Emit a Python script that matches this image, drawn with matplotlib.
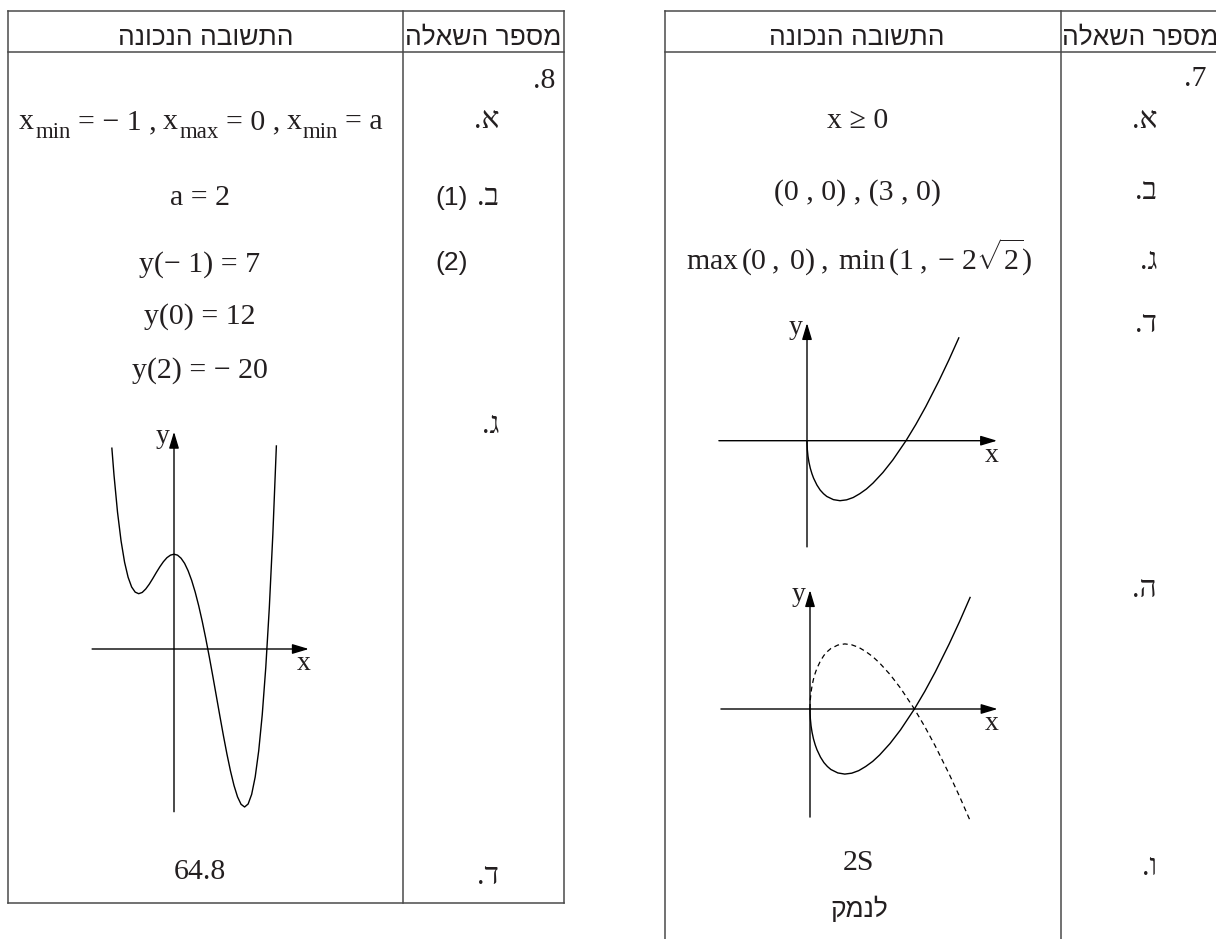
"""
Answer key tables for questions 7 and 8, with the function sketches.
"""
import matplotlib
matplotlib.use("Agg")
import matplotlib.pyplot as plt

W, H, DPI = 1216, 939, 100
SERIF = ["Liberation Serif", "DejaVu Sans"]
SANS = ["Liberation Sans", "DejaVu Sans"]
INK = "#231f20"
RULE = "#4a4a4a"
SIZE = 21.5
SUB_SIZE = 16.5
HEAD_SIZE = 19

plt.rcParams["mathtext.fontset"] = "custom"
plt.rcParams["mathtext.rm"] = "Liberation Serif"
plt.rcParams["mathtext.it"] = "Liberation Serif:italic"
plt.rcParams["mathtext.bf"] = "Liberation Serif:bold"

# ---- content -------------------------------------------------------------
HEADER_Q = "מספר השאלה"
HEADER_A = "התשובה הנכונה"

Q8_NUMBER = "8."
Q8_PARTS = ["א.", "ב.", "ג.", "ד."]
Q8_SUBPARTS = ["(1)", "(2)"]
Q8_ANSWER_A = [("x", 0), ("min", 1), ("= − 1 ,", 0), ("x", 0), ("max", 1),
               ("= 0 ,", 0), ("x", 0), ("min", 1), ("= a", 0)]
Q8_ANSWER_B1 = "a = 2"
Q8_ANSWER_B2 = ["y(− 1) = 7", "y(0) = 12", "y(2) = − 20"]
Q8_ANSWER_D = "64.8"

# y = f(x) sketch for question 8
Q8_CURVE_X = [-1.76, -1.7, -1.6, -1.5, -1.4, -1.3, -1.2, -1.1, -1.0, -0.9,
              -0.8, -0.7, -0.6, -0.5, -0.4, -0.3, -0.2, -0.1, 0.0, 0.1,
              0.2, 0.3, 0.4, 0.5, 0.6, 0.7, 0.8, 0.9, 1.0, 1.1,
              1.2, 1.3, 1.4, 1.5, 1.6, 1.7, 1.8, 1.9, 2.0, 2.1,
              2.2, 2.3, 2.4, 2.5, 2.6, 2.7, 2.8, 2.9]
Q8_CURVE_Y = [25.42, 22.03, 17.32, 13.69, 10.98, 9.08, 7.85, 7.20, 7.00, 7.16,
              7.60, 8.21, 8.93, 9.69, 10.41, 11.05, 11.56, 11.88, 12.00, 11.88,
              11.49, 10.84, 9.90, 8.69, 7.21, 5.47, 3.50, 1.33, -1.00, -3.45,
              -5.97, -8.50, -10.97, -13.31, -15.44, -17.28, -18.72, -19.66, -20.00, -19.62,
              -18.40, -16.20, -12.88, -8.31, -2.33, 5.22, 14.51, 25.70]

Q7_NUMBER = "7."
Q7_PARTS = ["א.", "ב.", "ג.", "ד.", "ה.", "ו."]
Q7_ANSWER_A = "x ≥ 0"
Q7_ANSWER_B = "(0 , 0) , (3 , 0)"
Q7_ANSWER_C = r"$\mathrm{max}\,(0\;,\;0)\;,\;\mathrm{min}\,(1\;,\;{-}\ 2\sqrt{2})$"
Q7_ANSWER_F = ["2S", "לנמק"]

# y = f(x) (solid) and its mirror (dashed) for question 7
Q7_CURVE_X = [0.0, 0.002, 0.01, 0.03, 0.06, 0.1, 0.15, 0.2, 0.3, 0.4,
              0.5, 0.6, 0.8, 1.0, 1.2, 1.4, 1.6, 1.8, 2.0, 2.3,
              2.6, 3.0, 3.3, 3.6, 4.0, 4.3, 4.6]
Q7_CURVE_Y = [0.0, -0.19, -0.42, -0.73, -1.02, -1.30, -1.56, -1.77, -2.09, -2.33,
              -2.50, -2.63, -2.78, -2.83, -2.79, -2.68, -2.50, -2.28, -2.00, -1.50,
              -0.91, 0.00, 0.77, 1.61, 2.83, 3.81, 4.85]
Q7_DASHED_Y = [0.0, 0.19, 0.42, 0.73, 1.02, 1.30, 1.56, 1.77, 2.09, 2.33,
               2.50, 2.63, 2.78, 2.83, 2.79, 2.68, 2.50, 2.28, 2.00, 1.50,
               0.91, 0.00, -0.77, -1.61, -2.83, -3.81, -4.85]


def rtl(s):
    # matplotlib lays text out left to right, so Hebrew goes in reversed
    return s[::-1]


fig = plt.figure(figsize=(W / DPI, H / DPI), dpi=DPI)
fig.patch.set_facecolor("white")
ax = fig.add_axes([0, 0, 1, 1])
ax.set_xlim(0, W)
ax.set_ylim(H, 0)
ax.axis("off")
renderer = fig.canvas.get_renderer()


def put(x, y, s, size=SIZE, family=SERIF, ha="center"):
    return ax.text(x, y, s, fontsize=size, family=family, ha=ha,
                   va="baseline", color=INK)


def put_run(xc, y, pieces, gap=7, drop=9):
    # pieces of one formula, subscripts set smaller and dropped
    items = []
    for i, (s, sub) in enumerate(pieces):
        t = ax.text(0, y + drop * sub, s, fontsize=SUB_SIZE if sub else SIZE,
                    family=SERIF, ha="left", va="baseline", color=INK)
        w = t.get_window_extent(renderer).width
        g = 0 if i == 0 else (1 if sub else gap)
        items.append((t, w, g))
    total = sum(w + g for _, w, g in items)
    x = xc - total / 2
    for t, w, g in items:
        x += g
        t.set_x(x)
        x += w


def table(left, right, top, bottom, split, head, open_side=False):
    kw = dict(color=RULE, lw=1.1, solid_capstyle="projecting")
    ax.plot([left, right], [top, top], **kw)
    ax.plot([left, right], [head, head], **kw)
    ax.plot([left, left], [top, bottom], **kw)
    ax.plot([split, split], [top, bottom], **kw)
    if not open_side:
        ax.plot([right, right], [top, bottom], **kw)
        ax.plot([left, right], [bottom, bottom], **kw)


def sketch(origin, scale, box, xspan, yspan):
    ox, oy = origin
    sx, sy = scale
    x0, y0, x1, y1 = box
    s = fig.add_axes([x0 / W, 1 - y1 / H, (x1 - x0) / W, (y1 - y0) / H])
    s.set_xlim((x0 - ox) / sx, (x1 - ox) / sx)
    s.set_ylim((oy - y1) / sy, (oy - y0) / sy)
    s.axis("off")
    arrow = dict(arrowstyle="-|>,head_length=1.0,head_width=0.3",
                 lw=1.0, color="black", shrinkA=0, shrinkB=0)
    s.annotate("", xy=(xspan[1], 0), xytext=(xspan[0], 0), arrowprops=arrow)
    s.annotate("", xy=(0, yspan[1]), xytext=(0, yspan[0]), arrowprops=arrow)
    s.annotate("y", xy=(0, yspan[1]), xytext=(-3, -8), textcoords="offset points",
               ha="right", va="baseline", fontsize=20, family=SERIF, color=INK)
    s.annotate("x", xy=(xspan[1], 0), xytext=(1, -15), textcoords="offset points",
               ha="right", va="baseline", fontsize=20, family=SERIF, color=INK)
    return s


# ---- question 8 (left table) ----------------------------------------------
table(8, 564, 11, 903, 403, 52)
put(206, 45, rtl(HEADER_A), size=HEAD_SIZE, family=SANS)
put(483, 45, rtl(HEADER_Q), size=HEAD_SIZE, family=SANS)

put(555, 88, rtl(Q8_NUMBER), ha="right")
for label, y in zip(Q8_PARTS, [128, 205, 433, 884]):
    put(499, y, rtl(label), ha="right")
for label, y in zip(Q8_SUBPARTS, [205, 270]):
    put(468, y, label, size=19, family=SANS, ha="right")

put_run(201, 129, Q8_ANSWER_A)
put(200, 205, Q8_ANSWER_B1)
for s, y in zip(Q8_ANSWER_B2, [272, 324, 378]):
    put(200, y, s)
put(200, 879, Q8_ANSWER_D)

s8 = sketch((174, 649), (35.3, 7.9), (80, 420, 330, 830), (-2.32, 3.82), (-20.6, 27.5))
s8.plot(Q8_CURVE_X, Q8_CURVE_Y, color="black", lw=1.0, clip_on=False)

# ---- question 7 (right table) ---------------------------------------------
table(665, 1240, 11, 960, 1061, 52, open_side=True)
put(857, 45, rtl(HEADER_A), size=HEAD_SIZE, family=SANS)
put(1140, 45, rtl(HEADER_Q), size=HEAD_SIZE, family=SANS)

put(1207, 86, rtl(Q7_NUMBER), ha="right")
for label, y in zip(Q7_PARTS, [128, 199, 269, 332, 597, 875]):
    put(1157, y, rtl(label), ha="right")

put(858, 128, Q7_ANSWER_A)
put(858, 200, Q7_ANSWER_B)
put(859, 270, Q7_ANSWER_C)
put(858, 870, Q7_ANSWER_F[0])
put(859, 917, rtl(Q7_ANSWER_F[1]), size=HEAD_SIZE, family=SANS)

s7d = sketch((807, 440.7), (33, 21.2), (700, 300, 1020, 560), (-2.67, 5.76), (-5.01, 5.55))
s7d.plot(Q7_CURVE_X, Q7_CURVE_Y, color="black", lw=1.0, clip_on=False)

s7e = sketch((810, 709), (34.8, 23), (700, 570, 1020, 830), (-2.56, 5.39), (-4.7, 5.17))
s7e.plot(Q7_CURVE_X, Q7_CURVE_Y, color="black", lw=1.0, clip_on=False)
s7e.plot(Q7_CURVE_X, Q7_DASHED_Y, color="black", lw=0.9, ls=(0, (4, 3)), clip_on=False)

fig.savefig("out.png", dpi=DPI, facecolor="white")
